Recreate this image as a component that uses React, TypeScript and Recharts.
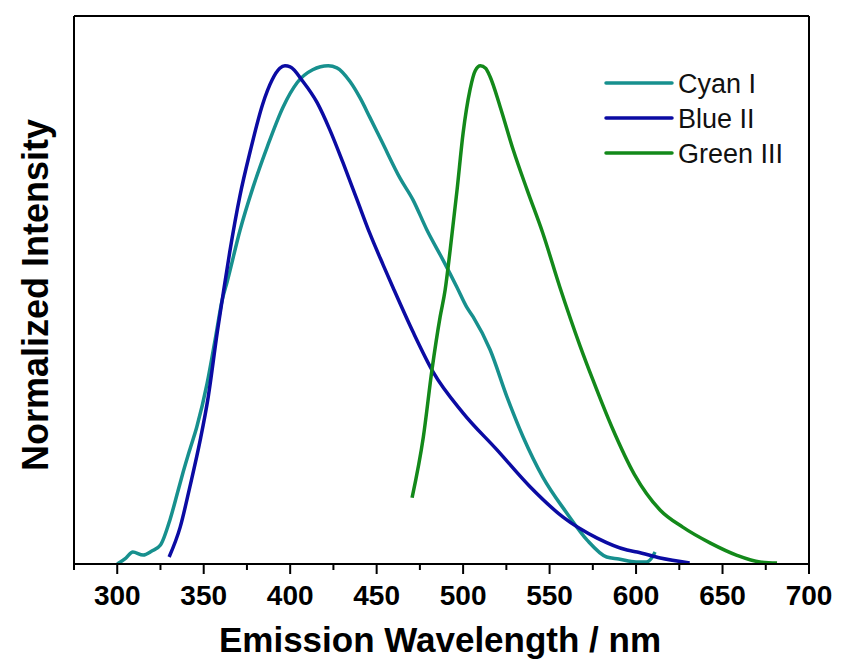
import React from 'react';
import { LineChart, Line, XAxis, YAxis, Legend, Label, ReferenceLine } from 'recharts';

const cyanX = [300, 305, 309, 315, 320, 325, 330.6, 335, 338, 342, 346, 352, 356.6, 360.7, 363.6, 371, 378.6, 386.7, 396, 404, 413, 422, 427, 434.7, 440.5, 446, 453, 463.6, 471, 479, 488.4, 496.5, 502, 505.8, 515.6, 525.4, 534.7, 546, 560, 571.7, 583, 590, 600, 606, 609, 611];
const cyanY = [0, 0.012, 0.024, 0.018, 0.026, 0.038, 0.09, 0.145, 0.183, 0.23, 0.275, 0.363, 0.45, 0.53, 0.567, 0.67, 0.757, 0.837, 0.918, 0.966, 0.992, 1.0, 0.996, 0.968, 0.935, 0.897, 0.848, 0.774, 0.731, 0.671, 0.61, 0.555, 0.516, 0.496, 0.43, 0.335, 0.255, 0.175, 0.102, 0.048, 0.014, 0.01, 0.004, 0.004, 0.012, 0.024];

const blueX = [330, 336.4, 342, 348, 352.6, 357.8, 360.7, 365, 371, 377, 384, 389.6, 394, 397, 400, 407.5, 415.6, 423, 430.6, 438.7, 446, 453.8, 459.7, 471, 482.7, 500, 519.6, 538.7, 557.8, 577.5, 594.8, 600.6, 614, 631];
const blueY = [0.014, 0.074, 0.155, 0.249, 0.335, 0.464, 0.53, 0.625, 0.74, 0.83, 0.922, 0.972, 0.995, 1.0, 0.998, 0.968, 0.926, 0.871, 0.805, 0.731, 0.664, 0.6, 0.553, 0.466, 0.385, 0.303, 0.229, 0.155, 0.094, 0.052, 0.028, 0.024, 0.012, 0.002];

const greenX = [470.5, 477, 482, 486.7, 489.6, 492.5, 496.5, 500, 504, 507, 510, 513, 515.6, 521.4, 529, 537, 546, 556, 567.6, 575, 586, 599, 614, 627, 643, 658, 671.7, 681.5];
const greenY = [0.133, 0.255, 0.39, 0.496, 0.55, 0.63, 0.751, 0.865, 0.952, 0.99, 1.0, 0.995, 0.978, 0.918, 0.831, 0.751, 0.665, 0.555, 0.438, 0.37, 0.275, 0.18, 0.108, 0.074, 0.042, 0.018, 0.004, 0.002];

const xTicks = [275, 300, 325, 350, 375, 400, 425, 450, 475, 500, 525, 550, 575, 600, 625, 650, 675, 700];
const majorTicks = [300, 350, 400, 450, 500, 550, 600, 650, 700];

const seriesNames = ['Cyan I', 'Blue II', 'Green III'];
const seriesColors = ['#17908e', '#0b0ba3', '#13891a'];

const zip = (xs: number[], ys: number[]) => xs.map((x, i) => ({ x, y: ys[i] }));
const seriesData = [zip(cyanX, cyanY), zip(blueX, blueY), zip(greenX, greenY)];

const FONT = '"Liberation Sans", Arial, sans-serif';

const XTick = (props: any) => {
  const { x, y, payload } = props;
  const v = payload.value;
  const major = majorTicks.includes(v);
  return (
    <g>
      <line x1={x} x2={x} y1={y} y2={y + (major ? 10 : 6)} stroke="#000" strokeWidth={2} />
      {major && (
        <text x={x} y={y + 41} textAnchor="middle" fontSize={28} fontWeight="bold" fontFamily={FONT} fill="#000">
          {v}
        </text>
      )}
    </g>
  );
};

const LegendBox = () => (
  <svg width={220} height={110} style={{ display: 'block' }}>
    {seriesNames.map((n, i) => {
      const cy = 19 + i * 35;
      return (
        <g key={n}>
          <line x1={6} x2={72} y1={cy} y2={cy} stroke={seriesColors[i]} strokeWidth={3.5} strokeLinecap="round" />
          <text x={78} y={cy + 9.5} fontSize={27} fontFamily={FONT} fill="#111">
            {n}
          </text>
        </g>
      );
    })}
  </svg>
);

const axisStyle = { stroke: '#000', strokeWidth: 2 };

export default function App() {
  return (
    <div style={{ position: 'absolute', left: 0, top: 0, width: 841, height: 660, background: '#fff' }}>
      <LineChart width={841} height={660} margin={{ top: 16, right: 32, left: 0, bottom: 0 }}>
        <XAxis
          type="number"
          dataKey="x"
          domain={[275, 700]}
          ticks={xTicks}
          interval={0}
          allowDataOverflow
          height={96}
          tickSize={0}
          tickMargin={0}
          tickLine={false}
          tick={<XTick />}
          axisLine={axisStyle}
        >
          <Label
            content={() => (
              <text x={440} y={652} textAnchor="middle" fontSize={35} fontWeight="bold" fontFamily={FONT} fill="#000">
                Emission Wavelength / nm
              </text>
            )}
          />
        </XAxis>
        <YAxis
          type="number"
          domain={[0, 1.1]}
          allowDataOverflow
          width={74}
          tick={false}
          tickLine={false}
          axisLine={axisStyle}
        >
          <Label
            content={() => (
              <text
                x={48}
                y={295}
                transform="rotate(-90 48 295)"
                textAnchor="middle"
                fontSize={36}
                fontWeight="bold"
                fontFamily={FONT}
                fill="#000"
              >
                Normalized Intensity
              </text>
            )}
          />
        </YAxis>
        <ReferenceLine y={1.1} stroke="#000" strokeWidth={2} ifOverflow="visible" />
        <ReferenceLine x={700} stroke="#000" strokeWidth={2} ifOverflow="visible" />
        {seriesData.map((d, i) => (
          <Line
            key={seriesNames[i]}
            data={d}
            dataKey="y"
            name={seriesNames[i]}
            stroke={seriesColors[i]}
            strokeWidth={3.5}
            dot={false}
            type="monotone"
            isAnimationActive={false}
          />
        ))}
        <Legend
          layout="vertical"
          align="center"
          verticalAlign="middle"
          content={() => <LegendBox />}
          wrapperStyle={{ position: 'absolute', left: 600, top: 64, width: 220, height: 110 }}
        />
      </LineChart>
    </div>
  );
}
